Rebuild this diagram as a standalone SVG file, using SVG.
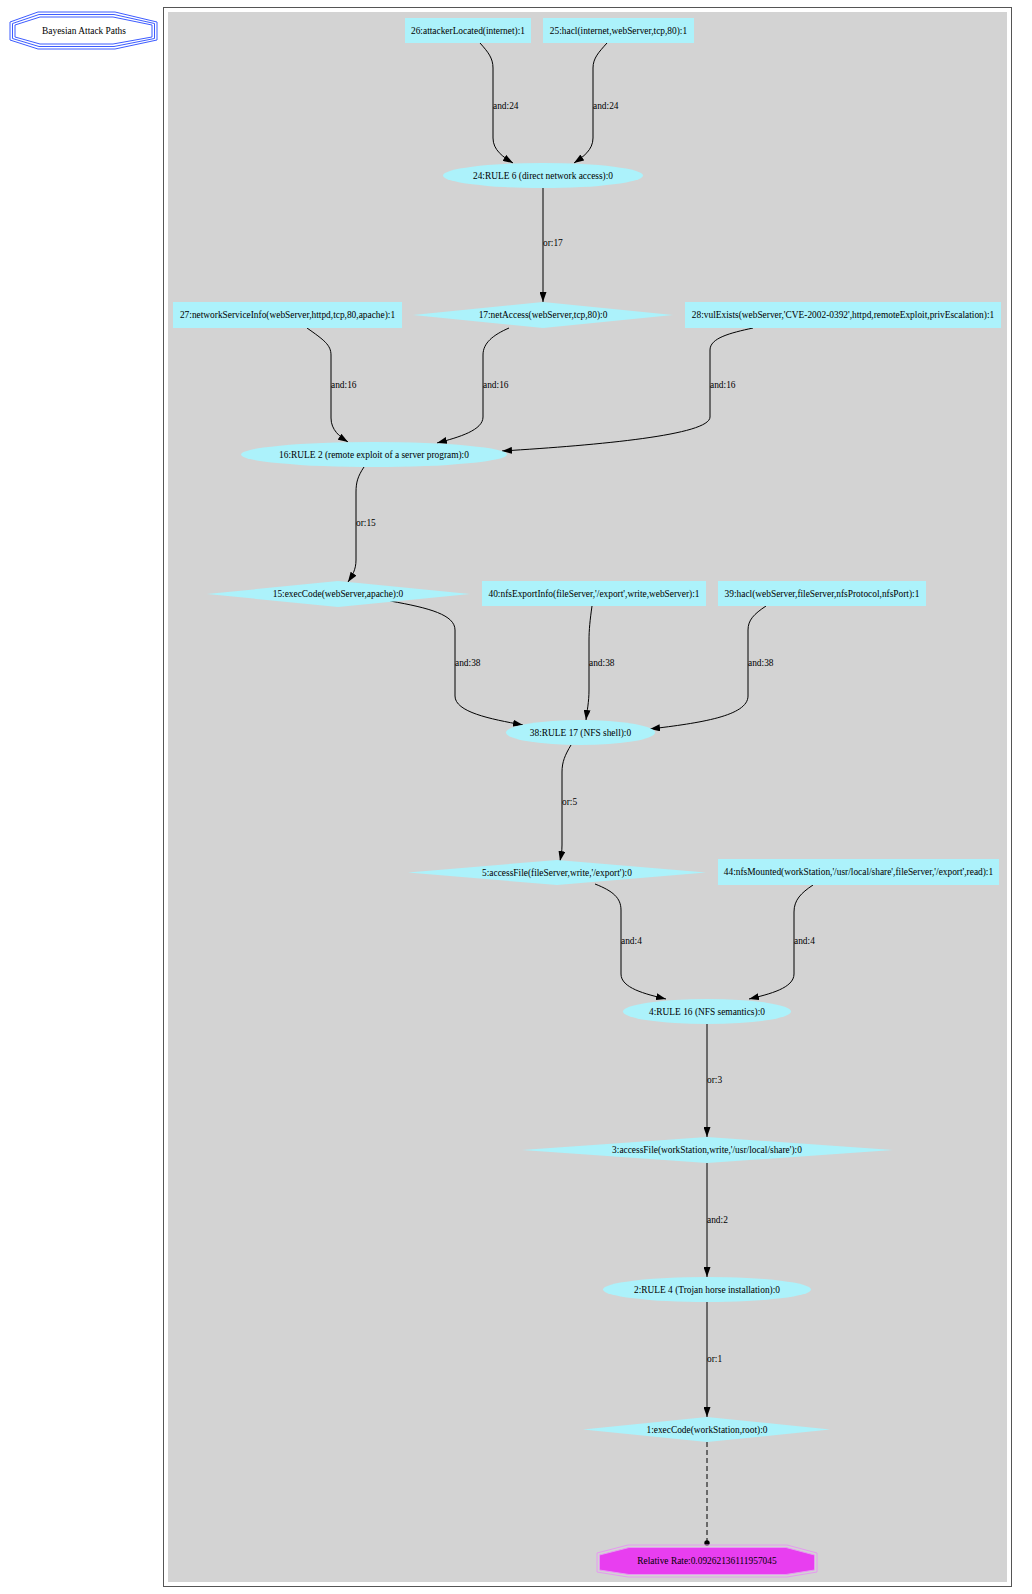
<svg xmlns="http://www.w3.org/2000/svg" width="1032" height="1594" viewBox="0 0 1032 1594">
<style>
text{font-family:"Liberation Serif","Times New Roman",serif;font-size:9.4px;fill:#000}
.n{text-anchor:middle}
.box{fill:#acf2fb;stroke:none}
.e{fill:none;stroke:#000;stroke-width:1}
</style>
<defs>
<marker id="arr" viewBox="0 0 10 7" refX="10" refY="3.5" markerWidth="10" markerHeight="7" markerUnits="userSpaceOnUse" orient="auto">
<path d="M0,0 L10,3.5 L0,7 z" fill="#000"/>
</marker>
<marker id="dot" viewBox="0 0 6 6" refX="3" refY="3" markerWidth="6" markerHeight="6" markerUnits="userSpaceOnUse" orient="auto">
<circle cx="3" cy="3" r="2.7" fill="#000"/>
</marker>
</defs>
<rect x="0" y="0" width="1032" height="1594" fill="#fff"/>
<g id="title">
<polygon points="38,12 115,12 157,22 157,40 115,49 38,49 10,40 10,22" fill="none" stroke="#3d5cff" stroke-width="1"/>
<polygon points="39,14.5 114,14.5 154.5,23.5 154.5,38.5 114,46.5 39,46.5 12.5,38.5 12.5,23.5" fill="none" stroke="#3d5cff" stroke-width="1"/>
<polygon points="40,17 113,17 152,25 152,37 113,44 40,44 15,37 15,25" fill="none" stroke="#3d5cff" stroke-width="1"/>
<text class="n" x="84" y="34">Bayesian Attack Paths</text>
</g>
<g id="cluster">
<rect x="163.5" y="7.5" width="848" height="1579" fill="#fff" stroke="#555" stroke-width="1"/>
<rect x="168" y="12" width="839" height="1570" fill="#d3d3d3"/>
</g>
<g id="edges">
<path class="e" marker-end="url(#arr)" d="M480,43 C488,52 493,58 493,68 L493,138 C493,150 503,157 513,163"/>
<text x="493" y="109">and:24</text>
<path class="e" marker-end="url(#arr)" d="M607,43 C599,52 593,58 593,68 L593,138 C593,150 583,157 574,163"/>
<text x="593" y="109">and:24</text>
<path class="e" marker-end="url(#arr)" d="M543,188 L543,302"/>
<text x="543" y="246">or:17</text>
<path class="e" marker-end="url(#arr)" d="M307,328 C324,340 331,345 331,355 L331,418 C331,430 340,437 348,442"/>
<text x="331" y="388">and:16</text>
<path class="e" marker-end="url(#arr)" d="M509,328 C493,335 483,343 483,355 L483,417 C483,430 460,437 437,443"/>
<text x="483" y="388">and:16</text>
<path class="e" marker-end="url(#arr)" d="M753,328 C730,333 710,338 710,350 L710,417 C710,435 600,445 502,451"/>
<text x="710" y="388">and:16</text>
<path class="e" marker-end="url(#arr)" d="M364,467 C358,476 356,482 356,492 L356,560 C356,570 352,576 348,582"/>
<text x="356" y="526">or:15</text>
<path class="e" marker-end="url(#arr)" d="M390,601 C430,608 455,615 455,630 L455,696 C455,712 490,719 523,725"/>
<text x="455" y="666">and:38</text>
<path class="e" marker-end="url(#arr)" d="M592,606 C590,620 589,630 589,640 L589,690 C589,702 587,711 586,720"/>
<text x="589" y="666">and:38</text>
<path class="e" marker-end="url(#arr)" d="M766,606 C754,614 748,620 748,630 L748,696 C748,716 700,723 650,729"/>
<text x="748" y="666">and:38</text>
<path class="e" marker-end="url(#arr)" d="M571,745 C565,755 562,762 562,772 L562,845 C562,852 561,856 560,861"/>
<text x="562" y="805">or:5</text>
<path class="e" marker-end="url(#arr)" d="M595,884 C613,891 621,898 621,910 L621,974 C621,988 645,994 666,999"/>
<text x="621" y="944">and:4</text>
<path class="e" marker-end="url(#arr)" d="M813,885 C801,893 794,900 794,912 L794,974 C794,988 770,994 749,999"/>
<text x="794" y="944">and:4</text>
<path class="e" marker-end="url(#arr)" d="M707,1024 L707,1137"/>
<text x="707" y="1083">or:3</text>
<path class="e" marker-end="url(#arr)" d="M707,1163 L707,1277"/>
<text x="707" y="1223">and:2</text>
<path class="e" marker-end="url(#arr)" d="M707,1302 L707,1417"/>
<text x="707" y="1362">or:1</text>
<path class="e" stroke-dasharray="5,3" marker-end="url(#dot)" d="M707,1442 L707,1543"/>
</g>
<g id="n26"><rect class="box" x="405" y="18" width="126" height="25"/><text class="n" x="468" y="34">26:attackerLocated(internet):1</text></g>
<g id="n25"><rect class="box" x="543" y="18" width="151" height="25"/><text class="n" x="618.5" y="34">25:hacl(internet,webServer,tcp,80):1</text></g>
<g id="n24"><ellipse class="box" cx="543" cy="175.5" rx="100" ry="12.5"/><text class="n" x="543" y="178.5">24:RULE 6 (direct network access):0</text></g>
<g id="n27"><rect class="box" x="173" y="302" width="229" height="26"/><text class="n" x="287.5" y="318">27:networkServiceInfo(webServer,httpd,tcp,80,apache):1</text></g>
<g id="n17"><polygon class="box" points="413,315 543,302 673,315 543,328"/><text class="n" x="543" y="318">17:netAccess(webServer,tcp,80):0</text></g>
<g id="n28"><rect class="box" x="685" y="302" width="316" height="26"/><text class="n" x="843" y="318">28:vulExists(webServer,'CVE-2002-0392',httpd,remoteExploit,privEscalation):1</text></g>
<g id="n16"><ellipse class="box" cx="374" cy="454.5" rx="133" ry="12.5"/><text class="n" x="374" y="457.5">16:RULE 2 (remote exploit of a server program):0</text></g>
<g id="n15"><polygon class="box" points="207,594 338,581 470,594 338,607"/><text class="n" x="338" y="597">15:execCode(webServer,apache):0</text></g>
<g id="n40"><rect class="box" x="482" y="581" width="224" height="25"/><text class="n" x="594" y="597">40:nfsExportInfo(fileServer,'/export',write,webServer):1</text></g>
<g id="n39"><rect class="box" x="718" y="581" width="208" height="25"/><text class="n" x="822" y="597">39:hacl(webServer,fileServer,nfsProtocol,nfsPort):1</text></g>
<g id="n38"><ellipse class="box" cx="580.5" cy="732.5" rx="74.5" ry="12.5"/><text class="n" x="580.5" y="735.5">38:RULE 17 (NFS shell):0</text></g>
<g id="n5"><polygon class="box" points="408,872.5 557,860 706,872.5 557,885"/><text class="n" x="557" y="875.5">5:accessFile(fileServer,write,'/export'):0</text></g>
<g id="n44"><rect class="box" x="718" y="859" width="281" height="26"/><text class="n" x="858.5" y="875">44:nfsMounted(workStation,'/usr/local/share',fileServer,'/export',read):1</text></g>
<g id="n4"><ellipse class="box" cx="707" cy="1011.5" rx="84" ry="12.5"/><text class="n" x="707" y="1014.5">4:RULE 16 (NFS semantics):0</text></g>
<g id="n3"><polygon class="box" points="522,1150 707,1137 893,1150 707,1163"/><text class="n" x="707" y="1153">3:accessFile(workStation,write,'/usr/local/share'):0</text></g>
<g id="n2"><ellipse class="box" cx="707" cy="1289.5" rx="104" ry="12.5"/><text class="n" x="707" y="1292.5">2:RULE 4 (Trojan horse installation):0</text></g>
<g id="n1"><polygon class="box" points="583,1429.5 707,1417 830,1429.5 707,1442"/><text class="n" x="707" y="1432.5">1:execCode(workStation,root):0</text></g>
<g id="rr">
<polygon points="628,1545 787,1545 817,1553 817,1572 787,1577 628,1577 597,1572 597,1553" fill="none" stroke="#e59af0" stroke-width="1"/>
<polygon points="629,1547.5 786,1547.5 814.5,1555 814.5,1570 786,1574.5 629,1574.5 599.5,1570 599.5,1555" fill="#e83ef0" stroke="#e59af0" stroke-width="1"/>
<text class="n" x="707" y="1564">Relative Rate:0.09262136111957045</text>
</g>
</svg>
